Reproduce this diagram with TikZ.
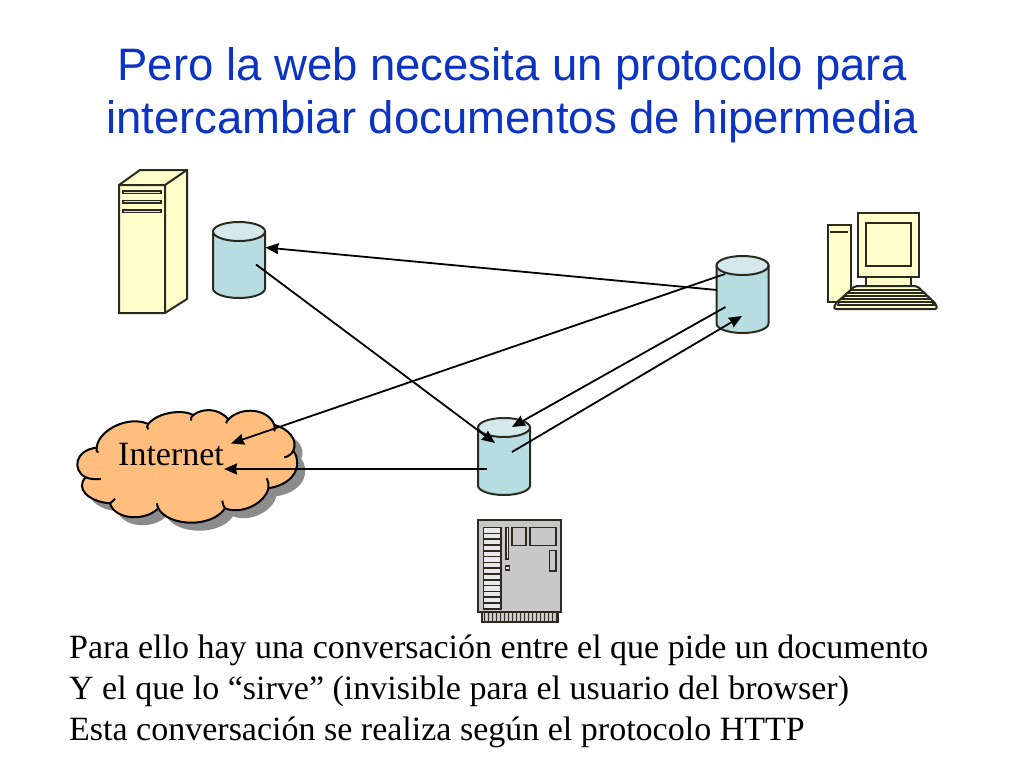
\documentclass[tikz,border=0pt]{standalone}
\usepackage{fontspec}
\setmainfont{Liberation Serif}
\newfontfamily\titlefont{Liberation Sans}
\usetikzlibrary{arrows.meta}
\definecolor{titleblue}{HTML}{0B33C4}
\definecolor{cylbody}{HTML}{B7DCE2}
\definecolor{cyltop}{HTML}{D5E9ED}
\definecolor{cream}{HTML}{FFFFCC}
\definecolor{cloudfill}{HTML}{FFBE7D}
\definecolor{boardgray}{HTML}{C8C8C8}
\definecolor{outline}{HTML}{2A2A1E}
\tikzset{
  conn/.style={line width=1.8pt,draw=black,-{Stealth[length=13pt,width=11pt,inset=1pt]}},
  part/.style={line width=2pt,draw=outline},
  thin part/.style={line width=1.6pt,draw=outline},
  titletext/.style={font=\titlefont\fontsize{45.5}{53}\selectfont,text=titleblue,align=center,inner sep=0pt},
  bodytext/.style={font=\fontsize{34}{41}\selectfont,align=left,inner sep=0pt,anchor=north west},
  cloudlabel/.style={font=\fontsize{34}{38}\selectfont,inner sep=0pt,anchor=base west}
}
% #1 left x, #2 top of ellipse, #3 bottom
\newcommand{\dbcyl}[3]{%
  \path[part,fill=cylbody] (#1,#2+9.5) -- (#1,#3-9.5)
     arc[start angle=180,end angle=0,x radius=26,y radius=9.5]
     -- (#1+52,#2+9.5) -- cycle;
  \path[part,fill=cyltop] (#1+26,#2+9.5) ellipse[x radius=26,y radius=9.5];
}
\newcommand{\cloudpath}{
  (95,143)
  .. controls (100,90) and (190,45) .. (250,72)
  .. controls (280,35) and (355,28) .. (385,45)
  .. controls (410,25) and (460,22) .. (490,58)
  .. controls (530,18) and (610,25) .. (628,75)
  .. controls (670,85) and (700,120) .. (685,152)
  .. controls (710,185) and (700,250) .. (610,265)
  .. controls (600,310) and (530,345) .. (480,325)
  .. controls (440,385) and (310,380) .. (280,325)
  .. controls (240,365) and (150,360) .. (135,310)
  .. controls (70,305) and (30,265) .. (62,232)
  .. controls (20,210) and (30,150) .. (95,143) -- cycle
}
\begin{document}
\begin{tikzpicture}[x=1pt,y=-1pt]
\useasboundingbox[fill=white] (0,0) rectangle (1024,768);

% title and body text
\node[titletext] (title) at (512,95) {Pero la web necesita un protocolo para\\intercambiar documentos de hipermedia};
\node[bodytext] (body) at (69,635) {Para ello hay una conversación entre el que pide un documento\\Y el que lo “sirve” (invisible para el usuario del browser)\\Esta conversación se realiza según el protocolo HTTP};

% server tower
\path[part,fill=cream] (119,185) -- (140,170) -- (187,170) -- (187,299) -- (165,313) -- (119,313) -- cycle;
\draw[part] (119,185) -- (165,185) -- (187,170) (165,185) -- (165,313);
\foreach \yy in {191,200.5,210}
  \path[thin part,fill=boardgray!40!cream] (123,\yy) rectangle (161,\yy+2.5);

% desktop PC
\path[part,fill=cream] (827.5,225) rectangle (851,302);
\draw[line width=2pt,draw=outline] (830,232) -- (848,232);
\path[part,fill=cream] (866,277) rectangle (911,287);
\path[part,fill=cream] (857.5,213) rectangle (919,277);
\path[part,fill=cream] (866,223) rectangle (911,266);
\path[part,fill=cream,rounded corners=2pt] (855,286) -- (917,286) -- (936,304) -- (937,309) -- (834,309) -- (835,304) -- cycle;
\path[thin part,fill=cream] (851,290) -- (921,290) -- (924,293) -- (848,293) -- cycle;
\path[thin part,fill=cream] (845,296) -- (927,296) -- (930,299) -- (842,299) -- cycle;
\path[thin part,fill=cream] (839,302) -- (932,302) -- (934,305) -- (838,305) -- cycle;

% expansion board
\path[thin part,fill=boardgray] (482,612) rectangle (558,622);
\foreach \i in {0,...,18} \draw[line width=1pt,draw=outline] (484+\i*4,612) -- (484+\i*4,622);
\path[part,fill=boardgray] (478,520) rectangle (561,612);
\foreach \i in {0,...,13} \path[thin part,fill=boardgray!40!white] (483.5,527.5+\i*5.8) rectangle (501,533.3+\i*5.8);
\path[thin part,fill=boardgray!40!white] (506,527.5) rectangle (508.5,559);
\path[thin part,fill=boardgray!40!white] (505.5,566) rectangle (509.5,570);
\path[thin part,fill=boardgray] (512,527.5) rectangle (526,545.5);
\path[thin part,fill=boardgray] (530,527.5) rectangle (556,545.5);
\path[thin part,fill=boardgray] (549.5,550.5) rectangle (556,571);

% cylinders
\dbcyl{213}{222}{298}
\dbcyl{716.5}{256}{333}
\dbcyl{478}{418}{495}

% cloud
\begin{scope}[shift={(65,400)},x=0.3333pt,y=-0.3333pt]
  \fill[black!45,shift={(24,24)}] \cloudpath;
  \path[part,draw=black,fill=cloudfill] \cloudpath;
  \draw[part,draw=black]
    (95,143) .. controls (93,150) and (95,155) .. (100,158)
    (250,72) .. controls (245,78) and (245,82) .. (250,88)
    (385,45) .. controls (378,52) and (376,58) .. (378,62)
    (490,58) .. controls (486,62) and (484,66) .. (484,70)
    (628,75) .. controls (630,82) and (630,88) .. (628,94)
    (685,152) .. controls (680,162) and (670,170) .. (658,172)
    (610,265) .. controls (612,255) and (610,245) .. (605,235)
    (480,325) .. controls (475,318) and (472,310) .. (472,302)
    (280,325) .. controls (278,320) and (276,315) .. (276,310)
    (135,310) .. controls (140,306) and (145,302) .. (150,296)
    (62,232) .. controls (75,238) and (95,238) .. (108,237);
\end{scope}
\node[cloudlabel] (internet) at (118,465) {Internet};

% connector end points
\coordinate (dbA in) at (265.5,247.5);
\coordinate (dbA out) at (256,264.5);
\coordinate (dbB edge) at (717,290);
\coordinate (dbB up) at (725,274);
\coordinate (dbB mid) at (725.5,307);
\coordinate (dbB in) at (742,316);
\coordinate (dbC in1) at (495,443);
\coordinate (dbC in2) at (512,427);
\coordinate (dbC out1) at (512,452);
\coordinate (dbC out2) at (486.5,469);
\coordinate (net in1) at (231,443.5);
\coordinate (net in2) at (224,469);

\draw[conn] (dbB edge) -- (dbA in);
\draw[conn] (dbA out) -- (dbC in1);
\draw[conn] (dbB up) -- (net in1);
\draw[conn] (dbB mid) -- (dbC in2);
\draw[conn] (dbC out1) -- (dbB in);
\draw[conn] (dbC out2) -- (net in2);
\end{tikzpicture}
\end{document}
